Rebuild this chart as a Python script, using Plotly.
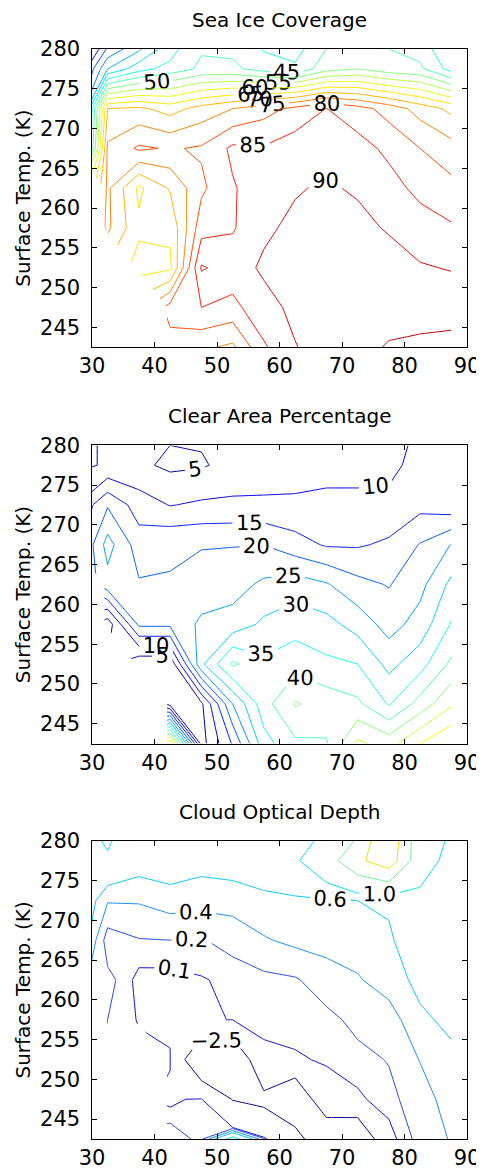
import plotly.graph_objects as go

# ---------------- data ----------------
lat = [27.5, 32.5, 37.5, 42.5, 47.5, 52.5, 57.5, 62.5, 67.5, 72.5, 77.5, 82.5, 87.5]
temp = [242.5, 247.5, 252.5, 257.5, 262.5, 267.5, 272.5, 277.5, 282.5]

# rows follow temp (ascending), columns follow lat
sea_ice = [
    [None, None, None, 78, 76, 74, 84.3, 89.8, 92, 93.5, 95.4, 96, 96.5],
    [None, None, None, 82, 85, 83.5, 88.5, 91, 92.5, 93, 93, 93, 93],
    [None, None, 63, 64, 90.5, 88, 90.7, 91.5, 92, 92.5, 92.3, 90.4, 89.7],
    [None, 76, 66, 66, 83, 84.5, 89.2, 91, 91.5, 91.4, 89.5, 87.5, 85.6],
    [None, 76, 64, 70.5, 79, 84.5, 88, 89.6, 90.6, 89.4, 87, 83.5, 81.5],
    [10, 76, 80.8, 79.5, 80.6, 86, 85.5, 87.6, 88.2, 87, 83.8, 80, 77],
    [10, 70, 71, 68, 72, 75, 78, 81.5, 85.1, 82, 78, 73, 68.7],
    [8, 30, 38, 42, 46, 46, 43, 41, 48, 50, 47, 46, 38],
    [5, 12, 20, 32, 43, 42, 36, 35, 42, 47, 43, 40, 33],
]

clear_area = [
    [None, None, None, 60, 3, 15.5, 33, 39, 39.5, 51, 48, 55, 60],
    [None, None, None, 3, 4, 25, 38, 45.5, 43, 41, 34.5, 42, 49.2],
    [None, None, 1, 1, 29, 41, 36, 38, 36, 35, 28.5, 33, 41.1],
    [None, 2, 21, 21, 26, 27, 31, 33, 31.7, 28, 23, 27, 35.4],
    [None, 23, 20.5, 20.3, 22, 23, 26, 27.5, 25.5, 21.5, 19.7, 23.5, 31.3],
    [12, 27, 17.5, 19.4, 19.7, 19.8, 19.9, 17, 14.5, 14.5, 15.8, 20.3, 25.2],
    [10, 19.5, 12.5, 9.8, 10.8, 11, 11, 11, 11.5, 11.5, 11.5, 13.5, 11.7],
    [4, 5.5, 6, 4, 4.5, 6.5, 7, 7.5, 8, 8, 8.5, 12, 11],
    [3, 6, 6, 6, 6, 6, 5.5, 4.5, 4, 4.5, 6, 11, 10],
]

cloud_od = [
    [None, None, None, 0.3, 0.15, 1.2, 0.25, -1.2, -5.5, -5.5, 0.05, 0.25, 0.42],
    [None, None, None, 0.05, 0.15, -2.6, -3.2, -5.5, 0.05, 0.08, 0.15, 0.3, 0.5],
    [None, None, None, 0.12, -5.5, -5.5, 0.08, 0.09, 0.11, 0.15, 0.21, 0.41, 0.55],
    [None, 0.2, 0.09, 0.05, 0.06, 0.11, 0.12, 0.13, 0.15, 0.25, 0.3, 0.56, 0.65],
    [None, 0.25, 0.06, 0.057, 0.09, 0.13, 0.15, 0.18, 0.3, 0.38, 0.5, 0.66, 0.72],
    [0.9, 0.1, 0.19, 0.2, 0.19, 0.25, 0.38, 0.45, 0.48, 0.5, 0.58, 0.7, 0.78],
    [0.9, 0.42, 0.42, 0.5, 0.48, 0.5, 0.55, 0.56, 0.57, 0.6, 0.62, 0.85, 0.85],
    [0.9, 0.9, 0.72, 0.75, 0.68, 0.7, 0.75, 0.915, 1.52, 2.79, 3.6, 1.3, 0.8],
    [0.8, 1.3, 0.6, 0.7, 0.7, 0.75, 0.8, 0.8, 0.95, 1.5, 4.0, 1.3, 1.0],
]

sea_ice_levels = [5, 10, 15, 20, 25, 30, 35, 40, 45, 50, 55, 60, 65, 70, 75, 80, 85, 90, 95]
clear_levels = [5, 10, 15, 20, 25, 30, 35, 40, 45, 50, 55, 60]
cod_levels = [-2.5, 0.1, 0.2, 0.4, 0.6, 1.0, 2.0, 3.0]
cod_colors = ["rgb(0,0,140)", "rgb(10,10,225)", "rgb(30,70,235)", "rgb(20,140,240)",
              "rgb(0,200,245)", "rgb(0,228,228)", "rgb(120,240,140)", "rgb(225,230,0)"]

titles = ["Sea Ice Coverage", "Clear Area Percentage", "Cloud Optical Depth"]
x_ticks = [30, 40, 50, 60, 70, 80, 90]
y_ticks = [245, 250, 255, 260, 265, 270, 275, 280]

# ---------------- styling helpers ----------------
FONT = "DejaVu Sans"
NBSP = "\u00a0"


def jet(t):
    t = max(0.0, min(1.0, t))
    r = max(0.0, min(1.0, 1.5 - abs(4 * t - 3)))
    g = max(0.0, min(1.0, 1.5 - abs(4 * t - 2)))
    b = max(0.0, min(1.0, 1.5 - abs(4 * t - 1)))
    return "rgb(%d,%d,%d)" % (round(r * 255), round(g * 255), round(b * 255))


fig = go.Figure()


def add_levels(z, levels, colors, xa, ya, fmt):
    for lev, col in zip(levels, colors):
        fig.add_trace(go.Contour(
            x=lat, y=temp, z=z,
            autocontour=False,
            contours=dict(start=lev, end=lev, size=1, coloring="lines",
                          showlabels=True, labelformat=fmt,
                          labelfont=dict(family=FONT, size=21, color="black")),
            colorscale=[[0, col], [1, col]],
            line=dict(width=1, smoothing=0),
            showscale=False, hoverinfo="skip",
            xaxis=xa, yaxis=ya,
        ))


add_levels(sea_ice, sea_ice_levels, [jet(l / 100.0) for l in sea_ice_levels], "x", "y", ".0f")
add_levels(clear_area, clear_levels, [jet((l - 2) / 84.0) for l in clear_levels], "x2", "y2", ".0f")
add_levels(cloud_od, cod_levels, cod_colors, "x3", "y3", ".1f")

domains = [[0.7264, 1.0], [0.3627, 0.6364], [0.0, 0.2736]]
axis_common = dict(showline=True, linecolor="black", linewidth=1, mirror="ticks",
                   ticks="inside", ticklen=5, tickcolor="black", showgrid=False,
                   zeroline=False, tickfont=dict(family=FONT, size=21, color="black"))
layout = dict(width=484, height=1174, paper_bgcolor="white", plot_bgcolor="white",
              margin=dict(l=84, r=15, t=41, b=33), showlegend=False, annotations=[])
for i in range(3):
    sx = "" if i == 0 else str(i + 1)
    layout["xaxis" + sx] = dict(domain=[0, 1], range=[30, 90], tickvals=x_ticks,
                                anchor="y" + sx, **axis_common)
    layout["yaxis" + sx] = dict(domain=domains[i], range=[242.5, 280], tickvals=y_ticks,
                                ticktext=[str(t) + NBSP for t in y_ticks],
                                anchor="x" + sx,
                                title=dict(text="Surface Temp. (K)", standoff=4,
                                           font=dict(family=FONT, size=20, color="black")),
                                **axis_common)
    layout["annotations"].append(dict(text=titles[i], xref="paper", yref="paper",
                                      x=0.5, y=domains[i][1], yanchor="bottom",
                                      yshift=15, showarrow=False,
                                      font=dict(family=FONT, size=20, color="black")))
fig.update_layout(**layout)
fig.write_html("out.html")
